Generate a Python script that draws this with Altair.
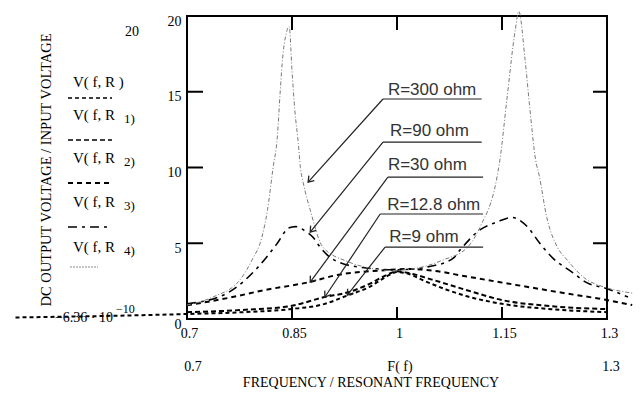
import math
import altair as alt
import pandas as pd

SERIF = "Liberation Serif"
SANS = "Liberation Sans"

# ---- data (f = F/Fres, v = Vout/Vin) ----
f_r9 = [0.455, 0.70, 0.78, 0.847, 0.897, 0.929, 0.96, 0.985, 1.00, 1.015, 1.04, 1.07, 1.10, 1.15, 1.22, 1.30]
v_r9 = [0.10, 0.33, 0.45, 0.65, 1.00, 1.55, 2.10, 2.80, 3.10, 3.00, 2.50, 1.95, 1.50, 1.00, 0.65, 0.45]

f_r12 = [0.70, 0.78, 0.847, 0.897, 0.929, 0.96, 0.985, 1.00, 1.015, 1.05, 1.10, 1.15, 1.22, 1.30]
v_r12 = [0.45, 0.60, 0.85, 1.45, 1.75, 2.30, 2.90, 3.15, 3.05, 2.60, 1.90, 1.25, 0.85, 0.65]

f_r30 = [0.70, 0.76, 0.81, 0.876, 0.914, 0.976, 1.02, 1.05, 1.10, 1.17, 1.24, 1.30, 1.336]
v_r30 = [0.90, 1.40, 1.90, 2.45, 2.90, 3.20, 3.30, 3.20, 2.80, 2.25, 1.70, 1.25, 0.92]

f_r90 = [0.70, 0.757, 0.801, 0.829, 0.845, 0.855, 0.869, 0.88, 0.89, 0.91, 0.95, 1.00, 1.05, 1.08, 1.09,
         1.119, 1.143, 1.164, 1.186, 1.204, 1.223, 1.25, 1.271, 1.30, 1.33]
v_r90 = [1.00, 1.70, 3.40, 5.00, 6.00, 6.10, 5.80, 5.40, 4.75, 3.90, 3.40, 3.25, 3.50, 4.00, 4.55,
         5.90, 6.40, 6.70, 6.10, 5.00, 4.00, 3.10, 2.40, 2.00, 1.45]

f_r300 = [0.700, 0.737, 0.776, 0.793, 0.807, 0.815, 0.823, 0.829, 0.833, 0.836, 0.842, 0.846, 0.850, 0.854,
          0.859, 0.862, 0.866, 0.876, 0.894, 0.929, 0.957, 0.990, 1.033, 1.066, 1.100, 1.119, 1.143, 1.147,
          1.157, 1.169, 1.174, 1.183, 1.190, 1.198, 1.203, 1.214, 1.229, 1.243, 1.271, 1.290, 1.300, 1.337]
v_r300 = [0.92, 1.45, 2.60, 3.90, 5.40, 7.20, 10.0, 12.0, 14.9, 16.9, 18.9, 19.3, 16.4, 13.8,
          11.6, 10.0, 9.00, 7.20, 4.75, 3.80, 3.40, 3.20, 3.40, 3.90, 4.70, 6.10, 9.40, 10.5,
          14.5, 19.1, 20.3, 17.1, 13.8, 10.5, 9.50, 6.70, 4.75, 3.90, 2.60, 2.20, 2.05, 1.70]

x_ticks = [0.85, 1.0, 1.15]
y_ticks = [5, 10, 15]
x_labels = [0.7, 0.85, 1.0, 1.15, 1.3]
y_labels = [0, 5, 10, 15, 20]

ann_text = ["R=300 ohm", "R=90 ohm", "R=30 ohm", "R=12.8 ohm", "R=9 ohm"]
ann_f_text = [0.987, 0.990, 0.987, 0.986, 0.989]
ann_v_text = [15.12, 12.41, 10.17, 7.52, 5.41]
ann_f_start = [0.980, 0.980, 0.987, 0.976, 0.983]
ann_f_end = [1.121, 1.121, 1.123, 1.123, 1.123]
ann_v_line = [14.52, 11.68, 9.37, 6.93, 4.75]
ann_f_tip = [0.873, 0.876, 0.876, 0.897, 0.929]
ann_v_tip = [9.04, 5.74, 2.44, 1.45, 1.58]

W, H = 420, 303
xscale = alt.Scale(domain=[0.7, 1.3], nice=False, zero=False)
yscale = alt.Scale(domain=[0, 20], nice=False, zero=False)
xaxis = alt.Axis(values=x_labels, labelExpr="'' + datum.value", ticks=False, domain=False, grid=False,
                 title=None, labelFont=SERIF, labelFontSize=14, labelColor="black", labelPadding=7,
                 labelFlush=False, labelOverlap=False, labelOffset=2)
yaxis = alt.Axis(values=y_labels, labelExpr="'' + datum.value", ticks=False, domain=False, grid=False,
                 title=None, labelFont=SERIF, labelFontSize=14, labelColor="black", labelPadding=6,
                 labelFlush=False, labelOverlap=False, labelOffset=5)


def X(field):
    return alt.X(field, type="quantitative", scale=xscale, axis=xaxis)


def Y(field):
    return alt.Y(field, type="quantitative", scale=yscale, axis=yaxis)


styles = [
    (f_r9, v_r9, dict(color="black", strokeWidth=2, strokeDash=[4, 3])),
    (f_r12, v_r12, dict(color="black", strokeWidth=2, strokeDash=[5, 3])),
    (f_r30, v_r30, dict(color="black", strokeWidth=2, strokeDash=[5, 4])),
    (f_r90, v_r90, dict(color="black", strokeWidth=1.6, strokeDash=[9, 5, 3, 5])),
    (f_r300, v_r300, dict(color="#7a7a7a", strokeWidth=1, strokeDash=[4, 2, 1, 2])),
]

layers = []
for fs, vs, st in styles:
    df = pd.DataFrame({"f": fs, "v": vs})
    layers.append(alt.Chart(df).mark_line(interpolate="monotone", clip=False, **st)
                  .encode(x=X("f"), y=Y("v")))

# inward tick marks
dx = pd.DataFrame({"t": x_ticks})
dy = pd.DataFrame({"t": y_ticks})
layers.append(alt.Chart(dx).mark_rule(color="black", strokeWidth=2).encode(x=X("t"), y=alt.value(0), y2=alt.value(14)))
layers.append(alt.Chart(dx).mark_rule(color="black", strokeWidth=2).encode(x=X("t"), y=alt.value(H), y2=alt.value(H - 12)))
layers.append(alt.Chart(dy).mark_rule(color="black", strokeWidth=2).encode(y=Y("t"), x=alt.value(0), x2=alt.value(16)))
layers.append(alt.Chart(dy).mark_rule(color="black", strokeWidth=2).encode(y=Y("t"), x=alt.value(W - 14), x2=alt.value(W)))

# annotations
px_f = W / 0.6
px_v = H / 20.0
ang = []
for fa, va, ft, vt in zip(ann_f_start, ann_v_line, ann_f_tip, ann_v_tip):
    ddx = (ft - fa) * px_f
    ddy = -(vt - va) * px_v
    ang.append(math.degrees(math.atan2(ddx, -ddy)) % 360)
ann = pd.DataFrame({"text": ann_text, "ft": ann_f_text, "vt": ann_v_text, "fa": ann_f_start,
                    "fb": ann_f_end, "va": ann_v_line, "fp": ann_f_tip, "vp": ann_v_tip, "ang": ang})
layers.append(alt.Chart(ann).mark_rule(color="#222", strokeWidth=1.2).encode(
    x=X("fa"), x2="fb", y=Y("va")))
layers.append(alt.Chart(ann).mark_rule(color="#222", strokeWidth=1.2).encode(
    x=X("fa"), x2="fp", y=Y("va"), y2="vp"))
layers.append(alt.Chart(ann).mark_point(shape="M-0.7,1L0,0L0.7,1", filled=False, size=110,
                                        color="#222", strokeWidth=1.3, opacity=1).encode(
    x=X("fp"), y=Y("vp"), angle=alt.Angle("ang:Q", scale=None)))
layers.append(alt.Chart(ann).mark_text(align="left", baseline="middle", font=SANS, fontSize=17,
                                       color="#333").encode(x=X("ft"), y=Y("vt"), text="text:N"))

OX, OY = 187, 16


def label(txt, x, y, size=14, align="center", angle=0, font=SERIF, color="black"):
    return alt.Chart(pd.DataFrame({"t": [txt]})).mark_text(
        align=align, baseline="middle", fontSize=size, font=font, angle=angle, color=color
    ).encode(x=alt.value(x - OX), y=alt.value(y - OY), text="t:N")


def leg_line(y, x1, x2, **st):
    return alt.Chart(pd.DataFrame({"a": [0]})).mark_rule(**st).encode(
        x=alt.value(x1 - OX), x2=alt.value(x2 - OX), y=alt.value(y - OY))


layers += [
    label("DC OUTPUT VOLTAGE / INPUT VOLTAGE", 47, 170, size=14.5, angle=270),
    label("FREQUENCY / RESONANT FREQUENCY", 371, 383, size=14),
    label("0.7", 193, 367),
    label("F( f)", 400, 367),
    label("1.3", 611, 367),
    label("20", 132, 32),
    label("\u22126.36 \u00b7 10", 113, 318, align="right"),
    label("\u221210", 116, 309, size=12, align="left"),
    label("V( f, R )", 73, 82, size=15, align="left"),
]
subs = ["1)", "2)", "3)", "4)"]
for yy, s in zip([115, 158, 202, 247], subs):
    layers.append(label("V( f, R", 73, yy, size=15, align="left"))
    layers.append(label(s, 124, yy + 4, size=13, align="left"))

layers += [
    leg_line(98, 68, 112, color="black", strokeWidth=1.6, strokeDash=[4, 3]),
    leg_line(140, 68, 112, color="black", strokeWidth=1.6, strokeDash=[5, 3]),
    leg_line(183, 68, 112, color="black", strokeWidth=1.8, strokeDash=[5, 4]),
    leg_line(227, 68, 112, color="black", strokeWidth=1.4, strokeDash=[9, 5, 3, 5]),
    leg_line(267, 70, 98, color="#8a8a8a", strokeWidth=1, strokeDash=[2, 1]),
]

chart = alt.layer(*layers).properties(
    width=W, height=H,
    autosize=alt.AutoSizeParams(type="none"),
    padding={"left": 179, "top": 8, "right": 26, "bottom": 70},
).configure_view(stroke="black", strokeWidth=2)

chart.save("out.html", embed_options={"renderer": "svg", "actions": False})
